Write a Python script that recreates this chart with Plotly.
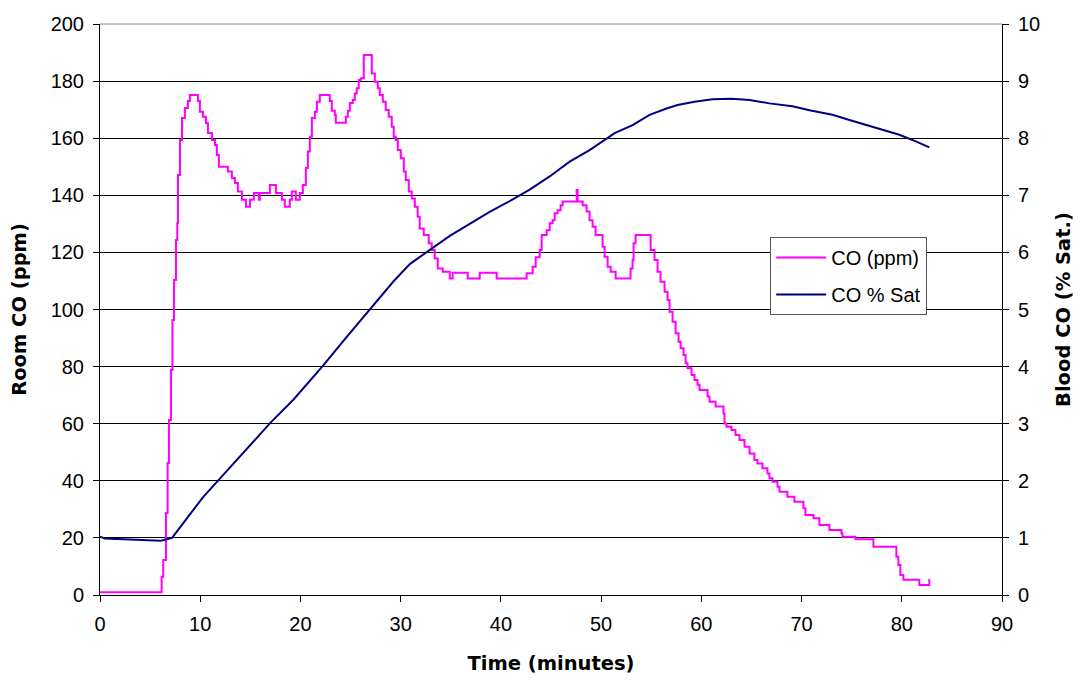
import plotly.graph_objects as go

# Room CO (ppm) – stepped record, time in minutes
co_time = [0.0, 6.15, 6.31, 6.58, 6.75, 6.88, 7.08, 7.23, 7.38, 7.58, 7.71, 7.78, 7.98, 8.18, 8.47, 8.77, 8.97,
           9.77, 9.97, 10.27, 10.57, 10.77, 11.17, 11.47, 11.66, 11.86, 12.76, 13.16, 13.46, 13.76, 14.16, 14.56,
           14.96, 15.35, 15.85, 15.95, 16.95, 17.55, 18.15, 18.44, 18.94, 19.14, 19.54, 19.94, 20.24, 20.54, 20.74,
           20.94, 21.14, 21.44, 21.64, 21.93, 22.93, 23.13, 23.43, 23.53, 24.53, 24.73, 24.93, 25.22, 25.42, 25.62,
           25.82, 26.02, 26.32, 27.12, 27.42, 27.72, 27.92, 28.22, 28.51, 28.81, 29.11, 29.31, 29.51, 29.71, 30.01,
           30.31, 30.51, 30.81, 31.11, 31.41, 31.70, 31.90, 32.30, 32.80, 33.10, 33.40, 33.70, 34.20, 34.90, 35.19,
           36.69, 37.89, 39.58, 42.57, 43.17, 43.47, 43.87, 44.07, 44.57, 44.87, 45.16, 45.36, 45.66, 45.96, 46.16,
           47.56, 47.66, 48.16, 48.55, 48.85, 49.15, 49.45, 50.15, 50.35, 50.65, 50.95, 51.45, 52.94, 53.14, 53.24,
           53.44, 54.94, 55.33, 55.63, 55.93, 56.33, 56.63, 56.83, 57.13, 57.43, 57.73, 57.93, 58.23, 58.43, 58.62,
           59.02, 59.32, 59.62, 59.82, 60.62, 60.82, 61.42, 62.21, 62.31, 62.51, 63.01, 63.41, 63.81, 64.31, 64.81,
           65.30, 65.60, 66.10, 66.60, 66.80, 67.10, 67.60, 67.80, 68.59, 69.29, 70.19, 70.39, 71.19, 71.78, 72.78,
           73.98, 74.08, 75.37, 77.17, 79.46, 79.66, 79.86, 80.16, 81.75, 82.75, 82.80]
co_ppm = [1.0, 6.4, 12.3, 28.7, 46.2, 61.3, 78.8, 96.3, 110.3, 124.3, 130.3, 147.1, 159.4, 167.1, 170.6, 173.0, 175.1,
          173.0, 169.3, 167.5, 165.3, 161.8, 159.4, 157.6, 154.1, 150.0, 148.3, 146.1, 144.3, 141.3, 138.4, 136.0,
          138.4, 140.8, 138.4, 140.8, 143.6, 140.8, 138.4, 136.0, 138.4, 141.3, 138.4, 140.8, 143.6, 149.6, 155.3,
          160.5, 167.1, 169.3, 172.8, 175.1, 173.0, 169.6, 168.1, 165.4, 167.5, 169.6, 172.3, 173.4, 175.7, 177.5,
          180.4, 181.0, 189.1, 182.7, 179.8, 177.5, 175.1, 172.8, 169.9, 167.5, 164.0, 160.5, 159.4, 155.9, 153.0,
          148.3, 145.4, 141.3, 138.9, 136.0, 132.5, 128.4, 126.1, 123.2, 120.8, 117.9, 114.4, 113.2, 110.9, 112.9,
          110.9, 112.9, 110.9, 112.7, 115.0, 118.3, 120.8, 126.1, 127.8, 130.2, 131.3, 133.7, 134.8, 136.5, 137.8,
          141.9, 137.8, 136.5, 134.3, 131.3, 129.0, 126.1, 122.0, 118.5, 115.0, 113.2, 110.9, 114.4, 117.3, 123.2,
          126.1, 120.8, 117.3, 113.2, 109.7, 106.2, 103.3, 99.2, 95.7, 91.7, 88.7, 86.4, 84.1, 81.2, 79.4,
          77.1, 75.3, 73.6, 71.8, 69.5, 67.7, 66.0, 63.6, 60.1, 58.9, 57.8, 56.0, 54.3, 51.9, 49.6,
          47.3, 46.1, 44.4, 42.6, 40.9, 39.7, 37.9, 36.2, 34.4, 32.7, 30.4, 28.0, 26.9, 24.5, 22.8,
          21.6, 20.4, 19.5, 16.9, 13.4, 10.5, 7.0, 5.3, 3.5, 5.3, 5.3]

# Blood CO (% saturation)
sat_time = [0.0, 0.5, 6.08, 7.19, 8.31, 9.31, 10.31, 11.71, 13.64, 16.97, 19.29, 22.13, 24.62, 26.95,
            29.27, 30.94, 32.93, 34.90, 36.89, 38.88, 40.88, 42.87, 44.87, 46.86, 48.85, 49.85, 51.35,
            53.14, 54.84, 56.53, 57.63, 59.32, 61.12, 63.00, 64.81, 66.80, 69.09, 70.79, 73.08, 74.78,
            76.47, 78.07, 79.76, 81.46, 82.75]
sat_pct = [1.02, 0.99, 0.95, 1.00, 1.26, 1.49, 1.72, 1.99, 2.37, 3.01, 3.42, 3.99, 4.52, 5.00,
           5.49, 5.80, 6.04, 6.29, 6.50, 6.71, 6.90, 7.10, 7.33, 7.59, 7.79, 7.91, 8.09,
           8.23, 8.41, 8.52, 8.58, 8.64, 8.68, 8.69, 8.67, 8.61, 8.56, 8.49,
           8.41, 8.32, 8.23, 8.14, 8.06, 7.94, 7.84]

x_ticks = [0, 10, 20, 30, 40, 50, 60, 70, 80, 90]
left_ticks = [0, 20, 40, 60, 80, 100, 120, 140, 160, 180, 200]
right_ticks = [0, 1, 2, 3, 4, 5, 6, 7, 8, 9, 10]

FONT = "Liberation Sans, Arial, sans-serif"
TITLE_FONT = dict(family="DejaVu Sans, sans-serif", size=19.5, color="black")

fig = go.Figure()
fig.add_trace(go.Scatter(x=co_time, y=co_ppm, name="CO (ppm)", mode="lines", legendgroup="a",
                         line=dict(color="#FF00FF", width=2, shape="hv")))
fig.add_trace(go.Scatter(x=sat_time, y=sat_pct, name="CO % Sat", mode="lines", yaxis="y2", legendgroup="b",
                         line=dict(color="#000080", width=2)))

axis_common = dict(ticks="outside", ticklen=6, tickcolor="black", showline=True, linecolor="black",
                   linewidth=1, zeroline=False, ticklabelstandoff=5, tickfont=dict(size=20),
                   automargin=False)

fig.update_layout(
    width=1067, height=668,
    margin=dict(l=92, r=73, t=16, b=81),
    paper_bgcolor="white", plot_bgcolor="white",
    font=dict(family=FONT, size=20, color="black"),
    showlegend=True,
    legend=dict(x=0.743, y=0.627, xanchor="left", yanchor="top",
                bgcolor="white", bordercolor="#555555", borderwidth=1,
                font=dict(size=20), tracegroupgap=8, itemwidth=50),
    xaxis=dict(range=[0, 90], tickvals=x_ticks, showgrid=False,
               title=dict(text="<b>Time (minutes)</b>", font=TITLE_FONT, standoff=22), **axis_common),
    yaxis=dict(range=[0, 200], tickvals=left_ticks, showgrid=True, gridcolor="black", gridwidth=1,
               title=dict(text="<b>Room CO (ppm)</b>", font=TITLE_FONT, standoff=18), **axis_common),
    yaxis2=dict(range=[0, 10], tickvals=right_ticks, overlaying="y", side="right", showgrid=False,
                title=dict(text="<b>Blood CO (% Sat.)</b>", font=TITLE_FONT, standoff=22), **axis_common),
    shapes=[dict(type="line", xref="paper", yref="paper", x0=0, x1=1, y0=1, y1=1,
                 line=dict(color="#888888", width=1))],
)

fig.write_html("out.html")
